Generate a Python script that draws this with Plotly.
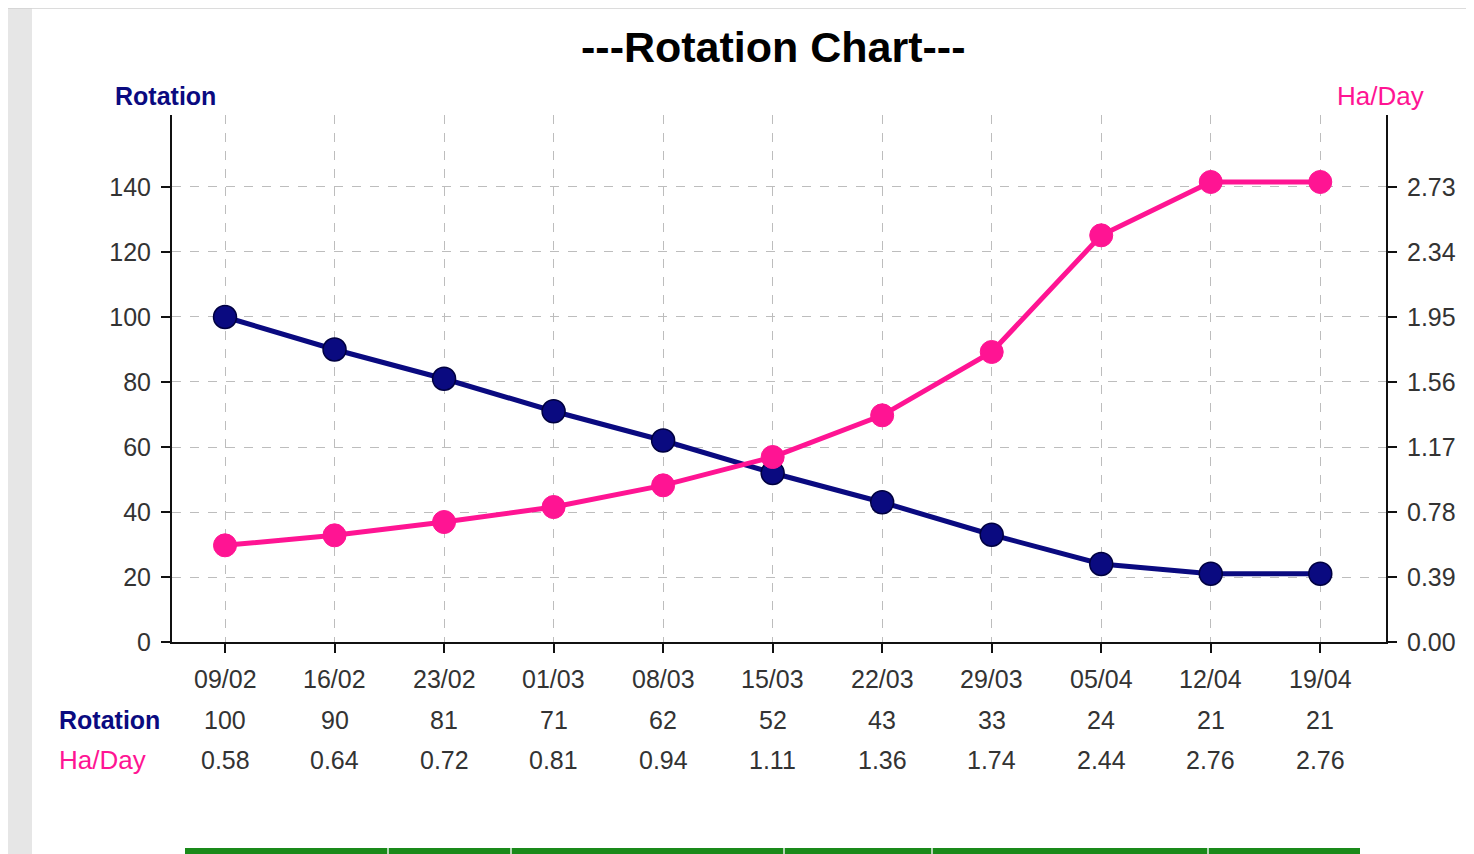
import plotly.graph_objects as go

categories = ["09/02", "16/02", "23/02", "01/03", "08/03", "15/03", "22/03", "29/03", "05/04", "12/04", "19/04"]
rotation = [100, 90, 81, 71, 62, 52, 43, 33, 24, 21, 21]
ha_day = [0.58, 0.64, 0.72, 0.81, 0.94, 1.11, 1.36, 1.74, 2.44, 2.76, 2.76]
left_ticks = [0, 20, 40, 60, 80, 100, 120, 140]
right_ticks = [0.00, 0.39, 0.78, 1.17, 1.56, 1.95, 2.34, 2.73]

NAVY = "#0a0a80"
PINK = "#ff1493"
TXT = "#333333"
FONT = "Liberation Sans, Arial, sans-serif"

OFF = 8  # browser body margin
W, H = 1474 - OFF, 854 - OFF
L, R, T, B = 172 - OFF, 1386 - OFF, 115 - OFF, 642 - OFF

xs = list(range(len(categories)))
left_top = 162.15
right_top = left_top * 0.39 / 20

fig = go.Figure()
fig.add_trace(go.Scatter(
    x=xs, y=rotation, mode="lines+markers", name="Rotation",
    line=dict(color=NAVY, width=5),
    marker=dict(size=23, color=NAVY, line=dict(color="#000040", width=1.5)),
    yaxis="y", showlegend=False, cliponaxis=False))
fig.add_trace(go.Scatter(
    x=xs, y=ha_day, mode="lines+markers", name="Ha/Day",
    line=dict(color=PINK, width=5),
    marker=dict(size=23, color=PINK, line=dict(color=PINK, width=1)),
    yaxis="y2", showlegend=False, cliponaxis=False))

def py(pix):
    pix -= OFF
    return (B - pix) / (B - T)

def px(pix):
    pix -= OFF
    return (pix - L) / (R - L)

ann = []
for i, c in enumerate(categories):
    ann.append(dict(x=i, y=py(679), xref="x", yref="paper", text=c, showarrow=False,
                    font=dict(size=25, color=TXT, family=FONT), xanchor="center", yanchor="middle"))
    ann.append(dict(x=i, y=py(720), xref="x", yref="paper", text=str(rotation[i]), showarrow=False,
                    font=dict(size=25, color=TXT, family=FONT), xanchor="center", yanchor="middle"))
    ann.append(dict(x=i, y=py(760), xref="x", yref="paper", text=f"{ha_day[i]:.2f}", showarrow=False,
                    font=dict(size=25, color=TXT, family=FONT), xanchor="center", yanchor="middle"))

ann.append(dict(x=px(57), y=py(720), xref="paper", yref="paper", text="<b>Rotation</b>", showarrow=False,
                font=dict(size=25, color=NAVY, family=FONT), xanchor="left", yanchor="middle"))
ann.append(dict(x=px(57), y=py(760), xref="paper", yref="paper", text="Ha/Day", showarrow=False,
                font=dict(size=26, color=PINK, family=FONT), xanchor="left", yanchor="middle"))
ann.append(dict(x=px(165), y=py(96), xref="paper", yref="paper", text="<b>Rotation</b>", showarrow=False,
                font=dict(size=25, color=NAVY, family=FONT), xanchor="center", yanchor="middle"))
ann.append(dict(x=px(1380), y=py(96), xref="paper", yref="paper", text="Ha/Day", showarrow=False,
                font=dict(size=26, color=PINK, family=FONT), xanchor="center", yanchor="middle"))
ann.append(dict(x=px(773), y=py(47), xref="paper", yref="paper", text="<b>---Rotation Chart---</b>", showarrow=False,
                font=dict(size=43, color="#000000", family=FONT), xanchor="center", yanchor="middle"))

shapes = [
    dict(type="rect", xref="paper", yref="paper", x0=px(0), x1=px(32), y0=py(860), y1=py(8),
         fillcolor="#e6e6e6", line=dict(width=0), layer="below"),
    dict(type="line", xref="paper", yref="paper", x0=px(0), x1=px(1480), y0=py(8), y1=py(8),
         line=dict(color="#d0d0d0", width=1.5)),
    dict(type="rect", xref="paper", yref="paper", x0=px(185), x1=px(1360), y0=py(860), y1=py(848),
         fillcolor="#1a8a1a", line=dict(width=0)),
]
for sx in [388, 511, 784, 932, 1208]:
    shapes.append(dict(type="line", xref="paper", yref="paper", x0=px(sx), x1=px(sx), y0=py(860), y1=py(848),
                       line=dict(color="#e8f0e8", width=1.5)))

fig.update_layout(
    width=W, height=H,
    margin=dict(l=L, r=W - R, t=T, b=H - B),
    paper_bgcolor="white", plot_bgcolor="white",
    font=dict(family=FONT, color=TXT),
    xaxis=dict(range=[-0.484, 10.6], tickvals=xs, ticktext=[""] * len(xs),
               showgrid=True, gridcolor="#bdbdbd", griddash="dash", gridwidth=1,
               showline=True, linecolor="#111111", linewidth=2,
               ticks="outside", ticklen=9, tickwidth=2, tickcolor="#111111",
               zeroline=False, fixedrange=True),
    yaxis=dict(range=[0, left_top], tickvals=left_ticks, ticktext=[str(v) for v in left_ticks],
               showgrid=True, gridcolor="#bdbdbd", griddash="dash", gridwidth=1,
               showline=True, linecolor="#111111", linewidth=2,
               ticks="outside", ticklen=9, tickwidth=1.5, tickcolor="#111111",
               tickfont=dict(size=25, color=TXT, family=FONT), ticklabelstandoff=5,
               zeroline=False, fixedrange=True),
    yaxis2=dict(range=[0, right_top], tickvals=right_ticks, ticktext=[f"{v:.2f}" for v in right_ticks],
                overlaying="y", side="right", showgrid=False,
                showline=True, linecolor="#111111", linewidth=2,
                ticks="outside", ticklen=9, tickwidth=1.5, tickcolor="#111111",
                tickfont=dict(size=25, color=TXT, family=FONT), ticklabelstandoff=5,
                zeroline=False, fixedrange=True),
    annotations=ann, shapes=shapes,
)

fig.write_html("out.html")
